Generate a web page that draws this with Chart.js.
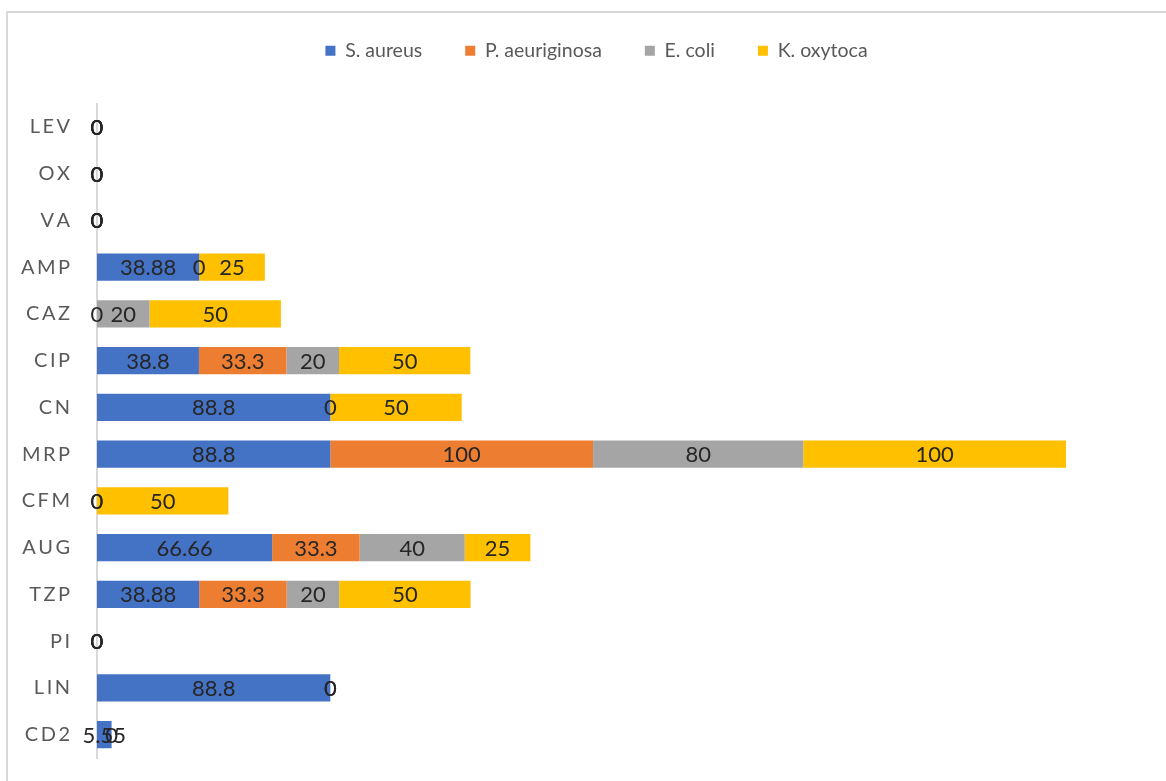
<!DOCTYPE html>
<html>
<head>
<meta charset="utf-8">
<script src="https://cdn.jsdelivr.net/npm/chart.js@4"></script>
<style>
  body { margin: 0; background: #fff; }
  #wrap { position: relative; width: 1166px; height: 781px; overflow: hidden; }
  #frame { position: absolute; left: 6px; top: 11px; width: 1300px; height: 900px;
    border-top: 2px solid #d9d9d9; border-left: 2px solid #d9d9d9; }
  canvas { position: absolute; left: 0; top: 0; }
</style>
</head>
<body>
<div id="wrap">
  <div id="frame"></div>
  <canvas id="myChart" width="1166" height="781"></canvas>
</div>
<script>
const categories = ["LEV", "OX", "VA", "AMP", "CAZ", "CIP", "CN", "MRP", "CFM", "AUG", "TZP", "PI", "LIN", "CD2"];
const sAureus = [0, 0, 0, 38.88, 0, 38.8, 88.8, 88.8, 0, 66.66, 38.88, 0, 88.8, 5.55];
const pAeruginosa = [0, 0, 0, 0, null, 33.3, 0, 100, 0, 33.3, 33.3, 0, 0, 0];
const eColi = [0, 0, 0, null, 20, 20, null, 80, null, 40, 20, 0, 0, null];
const kOxytoca = [0, 0, 0, 25, 50, 50, 50, 100, 50, 25, 50, 0, null, null];

const fontName = "Lato";

// draws the value in the middle of every bar (no datalabels plugin offline)
const valueLabels = {
  id: "valueLabels",
  afterDatasetsDraw(chart) {
    const ctx = chart.ctx;
    ctx.save();
    ctx.font = "22px " + fontName;
    ctx.fillStyle = "#262626";
    ctx.textAlign = "center";
    ctx.textBaseline = "middle";
    chart.data.datasets.forEach(function (ds, i) {
      const meta = chart.getDatasetMeta(i);
      meta.data.forEach(function (bar, j) {
        const v = ds.data[j];
        if (v === null || v === undefined) return;
        const p = bar.getProps(["x", "y", "base"], true);
        ctx.fillText(String(v), (p.x + p.base) / 2, p.y + 1);
      });
    });
    ctx.restore();
  },
};

// extra room under the legend, and nudge it right like the original
const legendGap = {
  id: "legendGap",
  beforeInit(chart) {
    const fit = chart.legend.fit;
    chart.legend.fit = function () {
      fit.bind(chart.legend)();
      this.height += 33;
    };
  },
  afterLayout(chart) {
    chart.legend.left += 19;
    chart.legend.right += 19;
  },
};

function makeSet(label, values, color) {
  return {
    label: label,
    data: values,
    backgroundColor: color,
    borderWidth: 0,
    categoryPercentage: 1,
    barPercentage: 0.58,
  };
}

const config = {
  type: "bar",
  data: {
    labels: categories,
    datasets: [
      makeSet("S. aureus", sAureus, "#4472C4"),
      makeSet("P. aeuriginosa", pAeruginosa, "#ED7D31"),
      makeSet("E. coli", eColi, "#A5A5A5"),
      makeSet("K. oxytoca", kOxytoca, "#FFC000"),
    ],
  },
  options: {
    indexAxis: "y",
    responsive: false,
    animation: false,
    layout: { padding: { top: -2, left: 7, right: 18, bottom: 23 } },
    plugins: {
      legend: {
        position: "top",
        labels: {
          boxWidth: 10,
          boxHeight: 10,
          padding: 43,
          color: "#595959",
          font: { family: fontName, size: 19.5 },
        },
      },
      tooltip: { enabled: false },
    },
    scales: {
      x: {
        stacked: true,
        display: false,
        min: 0,
        max: 400,
      },
      y: {
        stacked: true,
        grid: { display: false },
        border: { color: "#d9d9d9", width: 2 },
        afterFit(scale) {
          scale.width = 90;
          scale.paddingTop = 0;
          scale.paddingBottom = 0;
        },
        ticks: {
          padding: 19,
          color: "#595959",
          font: { family: fontName, size: 20 },
          callback: function (value) {
            return this.getLabelForValue(value).split("").join("\u2009");
          },
        },
      },
    },
  },
  plugins: [valueLabels, legendGap],
};

new Chart(document.getElementById("myChart"), config);
</script>
</body>
</html>
